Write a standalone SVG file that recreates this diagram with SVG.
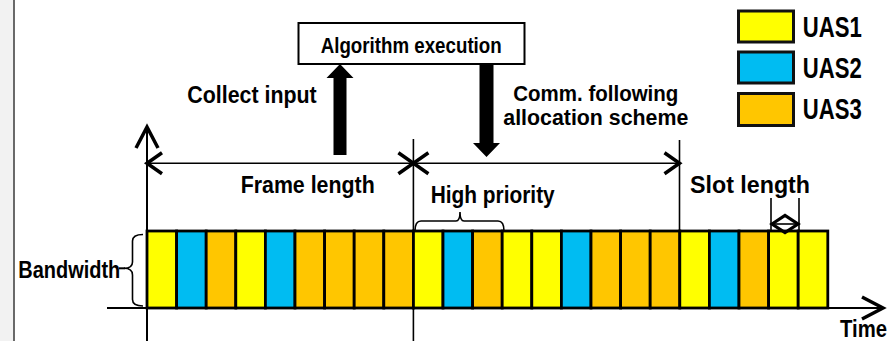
<svg xmlns="http://www.w3.org/2000/svg" width="894" height="341" viewBox="0 0 894 341">
<style>
.t{font-family:"Liberation Sans",Arial,sans-serif;font-weight:bold;fill:#000}
.y{fill:#FFFF00}.b{fill:#00BCF2}.o{fill:#FFC600}
.slot{stroke:#000;stroke-width:2.8}
.thin{stroke:#000;stroke-width:1.6;fill:none}
.lg{stroke:#111;stroke-width:3}
</style>
<defs>
<marker id="chev" markerUnits="userSpaceOnUse" viewBox="-18 -13 21 26" markerWidth="21" markerHeight="26" refX="0" refY="0" orient="auto-start-reverse" overflow="visible">
<path d="M-15,-10.5 L0,0 L-15,10.5" fill="none" stroke="#000" stroke-width="3.5" stroke-linejoin="miter"/>
</marker>
<marker id="axhead" markerUnits="userSpaceOnUse" viewBox="-24 -14 27 28" markerWidth="27" markerHeight="28" refX="0" refY="0" orient="auto" overflow="visible">
<path d="M-21,-11 L0,0 L-21,11" fill="none" stroke="#000" stroke-width="3.5" stroke-linejoin="miter"/>
</marker>
</defs>
<rect x="0" y="0" width="894" height="341" fill="#fff"/>
<rect x="0" y="0" width="13" height="341" fill="#f2f2f2"/>
<line x1="14" y1="0" x2="14" y2="341" stroke="#444" stroke-width="1.6"/>

<g id="strip">
<rect class="slot y" x="147" y="231" width="29.6" height="77"/>
<rect class="slot b" x="176.6" y="231" width="29.6" height="77"/>
<rect class="slot o" x="206.2" y="231" width="29.6" height="77"/>
<rect class="slot y" x="235.8" y="231" width="29.6" height="77"/>
<rect class="slot b" x="265.4" y="231" width="29.6" height="77"/>
<rect class="slot o" x="295" y="231" width="29.6" height="77"/>
<rect class="slot o" x="324.6" y="231" width="29.6" height="77"/>
<rect class="slot o" x="354.2" y="231" width="29.6" height="77"/>
<rect class="slot o" x="383.8" y="231" width="29.6" height="77"/>
<rect class="slot y" x="413.4" y="231" width="29.6" height="77"/>
<rect class="slot b" x="443" y="231" width="29.6" height="77"/>
<rect class="slot o" x="472.6" y="231" width="29.6" height="77"/>
<rect class="slot y" x="502.2" y="231" width="29.6" height="77"/>
<rect class="slot y" x="531.8" y="231" width="29.6" height="77"/>
<rect class="slot b" x="561.4" y="231" width="29.6" height="77"/>
<rect class="slot o" x="591" y="231" width="29.6" height="77"/>
<rect class="slot o" x="620.6" y="231" width="29.6" height="77"/>
<rect class="slot o" x="650.2" y="231" width="29.6" height="77"/>
<rect class="slot y" x="679.8" y="231" width="29.6" height="77"/>
<rect class="slot b" x="709.4" y="231" width="29.6" height="77"/>
<rect class="slot o" x="739" y="231" width="29.6" height="77"/>
<rect class="slot y" x="768.6" y="231" width="29.6" height="77"/>
<rect class="slot y" x="798.2" y="231" width="29.6" height="77"/>
</g>

<g id="axes">
<line x1="147" y1="341" x2="147" y2="127" stroke="#000" stroke-width="2" marker-end="url(#axhead)"/>
<line x1="107" y1="308" x2="883" y2="308" stroke="#000" stroke-width="2" marker-end="url(#axhead)"/>
<line class="thin" x1="413.4" y1="139" x2="413.4" y2="341"/>
<line class="thin" x1="679.5" y1="140" x2="679.5" y2="231"/>
</g>

<g id="algorithm">
<rect x="298.5" y="23" width="226" height="41" fill="#fff" stroke="#000" stroke-width="2"/>
<text class="t" x="320.7" y="52.5" font-size="22" textLength="181" lengthAdjust="spacingAndGlyphs">Algorithm execution</text>
</g>

<g id="connectors">
<polygon points="333.5,155 346.5,155 346.5,78 353.5,78 340,64 326.5,78 333.5,78" fill="#000"/>
<polygon points="479.5,64 493.5,64 493.5,143 500,143 486.5,157 473,143 479.5,143" fill="#000"/>
<line class="thin" x1="147" y1="163.3" x2="413.4" y2="163.3" marker-start="url(#chev)" marker-end="url(#chev)"/>
<line class="thin" x1="413.4" y1="163.3" x2="679.5" y2="163.3" marker-start="url(#chev)" marker-end="url(#chev)"/>
</g>

<g id="labels">
<text class="t" x="187.3" y="103.3" font-size="24" textLength="129.4" lengthAdjust="spacingAndGlyphs">Collect input</text>
<text class="t" x="513.3" y="101" font-size="22" textLength="165" lengthAdjust="spacingAndGlyphs">Comm. following</text>
<text class="t" x="503.3" y="125" font-size="22" textLength="185" lengthAdjust="spacingAndGlyphs">allocation scheme</text>
<text class="t" x="240.7" y="193" font-size="24" textLength="134" lengthAdjust="spacingAndGlyphs">Frame length</text>
<text class="t" x="430.7" y="203.3" font-size="24" textLength="124" lengthAdjust="spacingAndGlyphs">High priority</text>
<text class="t" x="690" y="193.3" font-size="24" textLength="120" lengthAdjust="spacingAndGlyphs">Slot length</text>
<text class="t" x="18.3" y="278.3" font-size="23.5" textLength="102" lengthAdjust="spacingAndGlyphs">Bandwidth</text>
<text class="t" x="840" y="336.7" font-size="23.5" textLength="47" lengthAdjust="spacingAndGlyphs">Time</text>
</g>

<g id="high-priority-brace">
<path class="thin" d="M415,231 Q415,221 421,221 L456,221 Q460,221 460,212 Q460,221 464,221 L498,221 Q504,221 504,231"/>
</g>

<g id="bandwidth-brace">
<path class="thin" d="M143,234.5 Q132.5,234.5 132.5,241 L132.5,262 Q132.5,268.3 124,268.3 Q132.5,268.3 132.5,275 L132.5,299.5 Q132.5,306 143,306"/>
<line x1="119" y1="268.3" x2="125" y2="268.3" stroke="#000" stroke-width="2"/>
</g>

<g id="slot-length">
<line class="thin" x1="771" y1="198" x2="771" y2="231"/>
<line class="thin" x1="799" y1="198" x2="799" y2="231"/>
<line class="thin" x1="772" y1="224" x2="798" y2="224"/>
<polygon points="772,224 785,215.5 798,224 785,232.5" fill="none" stroke="#000" stroke-width="3.2" stroke-linejoin="miter"/>
</g>

<g id="legend">
<g id="legend-uas1">
<rect class="lg y" x="738.5" y="11" width="55" height="31"/>
<text class="t" x="802.7" y="36.7" font-size="29" textLength="59" lengthAdjust="spacingAndGlyphs">UAS1</text>
</g>
<g id="legend-uas2">
<rect class="lg b" x="738.5" y="52" width="55" height="31"/>
<text class="t" x="802.7" y="78.3" font-size="29" textLength="59" lengthAdjust="spacingAndGlyphs">UAS2</text>
</g>
<g id="legend-uas3">
<rect class="lg o" x="738.5" y="93.5" width="55" height="32"/>
<text class="t" x="802.7" y="119.3" font-size="29" textLength="59" lengthAdjust="spacingAndGlyphs">UAS3</text>
</g>
</g>
</svg>
